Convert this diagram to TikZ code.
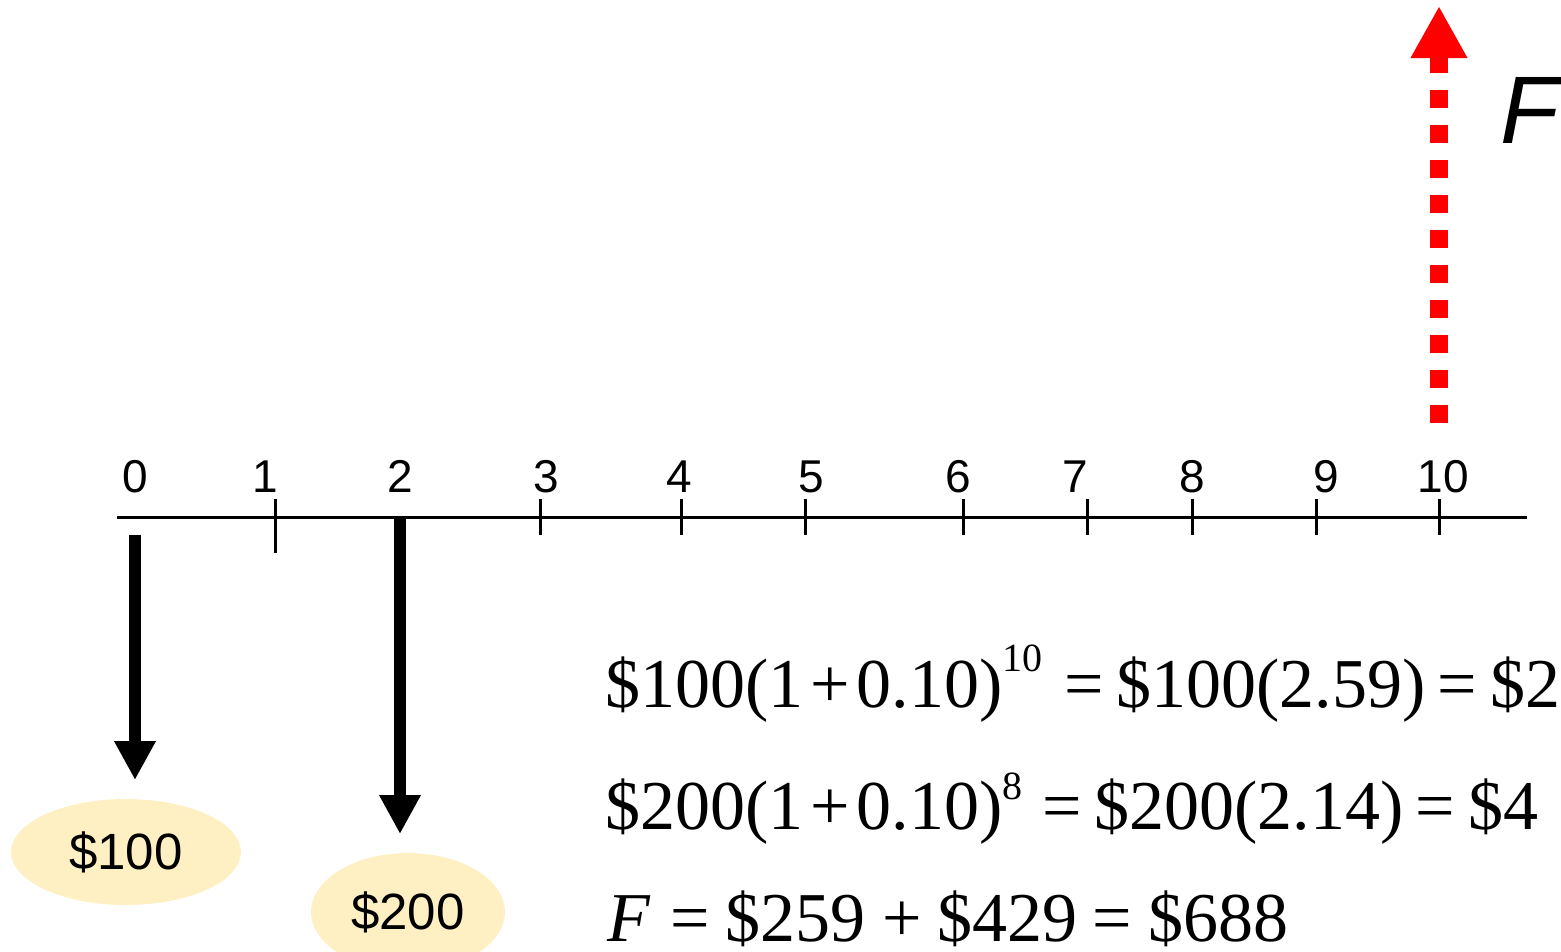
\documentclass[tikz,border=0pt]{standalone}
\usepackage{fontspec}
\setmainfont{Liberation Sans}
\newfontfamily\tnr{Liberation Serif}
\usetikzlibrary{arrows.meta,shapes.geometric}
\definecolor{pillfill}{RGB}{255,240,196}
\tikzset{
  axisline/.style={line width=3pt, line cap=butt},
  ticklab/.style={anchor=base, inner sep=0pt, font=\fontsize{46}{52}\selectfont},
  cash/.style={line width=12pt, -{Triangle[width=39pt,length=39pt]}},
  pill/.style={ellipse, fill=pillfill, inner sep=0pt, font=\fontsize{51}{56}\selectfont},
  eqn/.style={anchor=base west, inner sep=0pt, font=\tnr\fontsize{70}{80}\selectfont},
  future/.style={red, line width=18pt, dash pattern=on 18pt off 17pt, {Triangle[width=53pt,length=52pt]}-}
}
\begin{document}
\begin{tikzpicture}[x=1pt,y=-1pt]
\useasboundingbox (0,0) rectangle (1561,951);
\clip (0,0) rectangle (1561,951);
% axis
\coordinate (axL) at (117,517);
\coordinate (axR) at (1527,517);
\draw[axisline] (axL) -- (axR);
\foreach \n/\x/\b in {1/275/553,3/540/535,4/681/535,5/805/535,6/963/535,7/1087/535,8/1192/535,9/1316/535,10/1439/535}{
  \coordinate (tt\n) at (\x,499);
  \coordinate (tb\n) at (\x,\b);
  \draw[axisline] (tt\n) -- (tb\n);
}
\foreach \n/\x in {0/135,1/265,2/400,3/546,4/679,5/811,6/958,7/1075,8/1192,9/1326,10/1443}{
  \node[ticklab] (lab\n) at (\x,492) {\n};
}
% cash flows
\node[pill, minimum width=230pt, minimum height=106pt] (p100) at (126,852) {\$100};
\node[pill, minimum width=194pt, minimum height=118pt] (p200) at (408,912) {\$200};
\coordinate (a0s) at (135,535);
\coordinate (a0e) at (135,780);
\draw[cash] (a0s) -- (a0e);
\coordinate (a2s) at (400,517);
\coordinate (a2e) at (400,834);
\draw[cash] (a2s) -- (a2e);
% future value arrow
\coordinate (rtip) at (1439,6);
\coordinate (rbot) at (1439,429);
\draw[future] (rtip) -- (rbot);
\node[anchor=base west, inner sep=0pt, font=\fontsize{96}{110}\selectfont\itshape] (flab) at (1500,143) {F};
% equations
\node[eqn] (eq1) at (605,707) {\$100(1\hspace{7pt}+\hspace{7pt}0.10)\raisebox{36pt}{\fontsize{40}{44}\selectfont 10}\hspace{22pt}=\hspace{12pt}\$100(2.59)\hspace{12pt}=\hspace{14pt}\$2};
\node[eqn] (eq2) at (605,829) {\$200(1\hspace{7pt}+\hspace{7pt}0.10)\raisebox{30pt}{\fontsize{40}{44}\selectfont 8}\hspace{20pt}=\hspace{12pt}\$200(2.14)\hspace{12pt}=\hspace{14pt}\$4};
\node[eqn] (eq3) at (607,941) {\textit{F}\hspace{20pt}=\hspace{16pt}\$259\hspace{16pt}+\hspace{16pt}\$429\hspace{15pt}=\hspace{17pt}\$688};
\end{tikzpicture}
\end{document}
